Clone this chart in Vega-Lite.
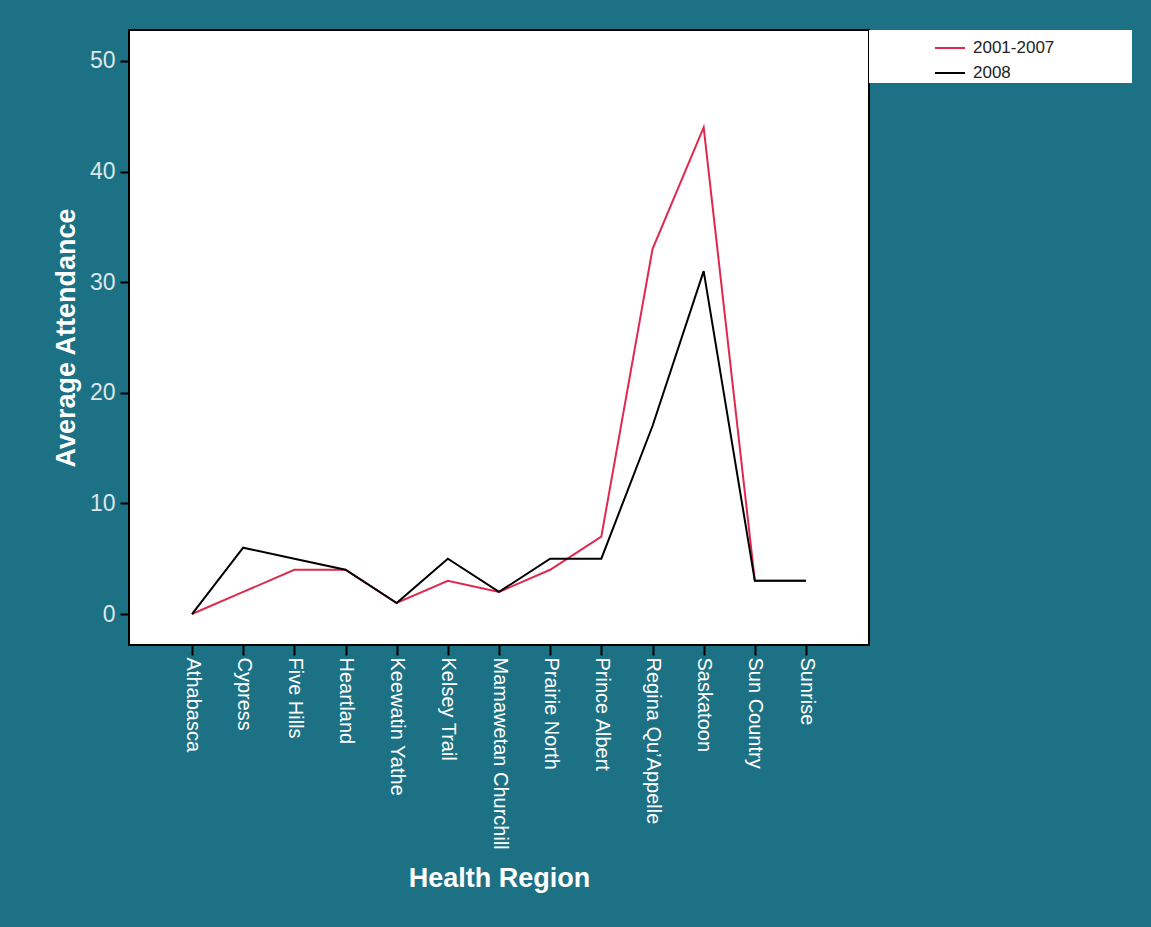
{
  "$schema": "https://vega.github.io/schema/vega-lite/v6.json",
  "autosize": {"type": "none"},
  "padding": {"left": 129, "top": 30, "right": 282, "bottom": 282},
  "width": 740,
  "height": 615,
  "background": "#1c7185",
  "data": {
    "values": [
      {"region": "Athabasca", "period": "2001-2007", "attendance": 0},
      {"region": "Cypress", "period": "2001-2007", "attendance": 2},
      {"region": "Five Hills", "period": "2001-2007", "attendance": 4},
      {"region": "Heartland", "period": "2001-2007", "attendance": 4},
      {"region": "Keewatin Yathe", "period": "2001-2007", "attendance": 1},
      {"region": "Kelsey Trail", "period": "2001-2007", "attendance": 3},
      {"region": "Mamawetan Churchill", "period": "2001-2007", "attendance": 2},
      {"region": "Prairie North", "period": "2001-2007", "attendance": 4},
      {"region": "Prince Albert", "period": "2001-2007", "attendance": 7},
      {"region": "Regina Qu’Appelle", "period": "2001-2007", "attendance": 33},
      {"region": "Saskatoon", "period": "2001-2007", "attendance": 44},
      {"region": "Sun Country", "period": "2001-2007", "attendance": 3},
      {"region": "Sunrise", "period": "2001-2007", "attendance": 3},
      {"region": "Athabasca", "period": "2008", "attendance": 0},
      {"region": "Cypress", "period": "2008", "attendance": 6},
      {"region": "Five Hills", "period": "2008", "attendance": 5},
      {"region": "Heartland", "period": "2008", "attendance": 4},
      {"region": "Keewatin Yathe", "period": "2008", "attendance": 1},
      {"region": "Kelsey Trail", "period": "2008", "attendance": 5},
      {"region": "Mamawetan Churchill", "period": "2008", "attendance": 2},
      {"region": "Prairie North", "period": "2008", "attendance": 5},
      {"region": "Prince Albert", "period": "2008", "attendance": 5},
      {"region": "Regina Qu’Appelle", "period": "2008", "attendance": 17},
      {"region": "Saskatoon", "period": "2008", "attendance": 31},
      {"region": "Sun Country", "period": "2008", "attendance": 3},
      {"region": "Sunrise", "period": "2008", "attendance": 3}
    ]
  },
  "mark": {"type": "line", "strokeWidth": 2},
  "encoding": {
    "x": {
      "field": "region",
      "type": "nominal",
      "sort": null,
      "scale": {"type": "point", "padding": 0, "range": [63, 677]},
      "axis": {
        "title": "Health Region",
        "domain": false,
        "labelAngle": 90,
        "labelAlign": "left",
        "labelBaseline": "middle",
        "labelFontSize": 20,
        "labelColor": "#ffffff",
        "labelPadding": 2,
        "labelLimit": 300,
        "tickSize": 10,
        "tickColor": "#000000",
        "tickWidth": 2,
        "titleFontSize": 27,
        "titleFontWeight": "bold",
        "titleColor": "#ffffff",
        "titlePadding": 20
      }
    },
    "y": {
      "field": "attendance",
      "type": "quantitative",
      "scale": {"domain": [-2.8, 52.8], "nice": false, "zero": false},
      "axis": {
        "title": "Average Attendance",
        "domain": false,
        "values": [0, 10, 20, 30, 40, 50],
        "grid": false,
        "labelFontSize": 23,
        "labelColor": "#dbe7eb",
        "labelPadding": 5,
        "tickSize": 9,
        "tickColor": "#000000",
        "tickWidth": 2,
        "titleFontSize": 27,
        "titleFontWeight": "bold",
        "titleColor": "#ffffff",
        "titlePadding": 9
      }
    },
    "color": {
      "field": "period",
      "type": "nominal",
      "scale": {"domain": ["2001-2007", "2008"], "range": ["#e0284f", "#000000"]},
      "legend": {
        "title": null,
        "orient": "none",
        "legendX": 740,
        "legendY": 0,
        "padding": 2,
        "fillColor": "#ffffff",
        "symbolType": "stroke",
        "symbolSize": 900,
        "symbolStrokeWidth": 2,
        "symbolOffset": 63,
        "rowPadding": 1,
        "labelFontSize": 17,
        "labelColor": "#222222",
        "labelOffset": 7,
        "labelLimit": 400,
        "labelExpr": "datum.label + '\u00a0\u00a0\u00a0\u00a0\u00a0\u00a0\u00a0\u00a0\u00a0\u00a0\u00a0\u00a0\u00a0\u00a0\u00a0\u00a0\u200b'"
      }
    }
  },
  "config": {
    "font": "Liberation Sans",
    "view": {"stroke": "#000000", "strokeWidth": 2, "fill": "#ffffff"}
  }
}
